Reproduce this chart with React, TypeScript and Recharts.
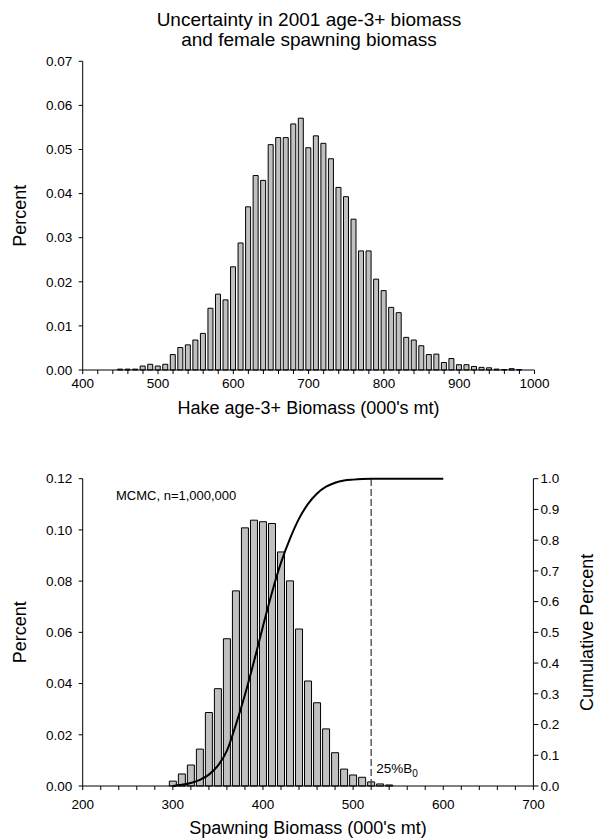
import React from 'react'
import { BarChart, ComposedChart, Bar, Line, XAxis, YAxis, ReferenceLine } from 'recharts'

// age-3+ biomass histogram (bin centre, 000's mt) and share of draws
const TOTAL_BINS = [450, 460, 470, 480, 490, 500, 510, 520, 530, 540, 550, 560, 570, 580, 590,
  600, 610, 620, 630, 640, 650, 660, 670, 680, 690, 700, 710, 720, 730, 740, 750, 760, 770, 780, 790,
  800, 810, 820, 830, 840, 850, 860, 870, 880, 890, 900, 910, 920, 930, 940, 950, 960, 970, 980]
const TOTAL_PCT = [0.0002, 0.0002, 0.0002, 0.0009, 0.0013, 0.0009, 0.0013, 0.0035, 0.0051, 0.0057,
  0.0068, 0.0083, 0.014, 0.0172, 0.0159, 0.0234, 0.0288, 0.037, 0.0441, 0.043, 0.0511, 0.0527, 0.0527,
  0.0558, 0.0571, 0.0504, 0.0531, 0.0514, 0.0479, 0.0414, 0.0393, 0.0342, 0.027, 0.027, 0.0206, 0.018,
  0.0142, 0.013, 0.0074, 0.0068, 0.0055, 0.0035, 0.0036, 0.0017, 0.0026, 0.0012, 0.0012, 0.0008,
  0.0006, 0.0005, 0.0002, 0.0001, 0.0003, 0.0001]

// female spawning biomass histogram
const SPAWN_BINS = [300, 310, 320, 330, 340, 350, 360, 370, 380, 390, 400, 410, 420, 430, 440, 450,
  460, 470, 480, 490, 500, 510, 520, 530, 540]
const SPAWN_PCT = [0.0019, 0.0047, 0.0082, 0.0144, 0.0287, 0.038, 0.0575, 0.0762, 0.1008, 0.1038,
  0.1032, 0.1025, 0.0914, 0.0801, 0.0613, 0.041, 0.0325, 0.0223, 0.013, 0.0066, 0.0043, 0.0034,
  0.0016, 0.0008, 0.0004]

// cumulative curve
const CUM_BINS = [300, 310, 320, 330, 340, 350, 360, 370, 380, 390, 400, 410, 420, 430, 440, 450,
  460, 470, 480, 490, 500, 510, 520, 530, 540, 550, 560, 570, 580, 590, 600]
const CUM_PCT = [0, 0.004, 0.01, 0.02, 0.037, 0.066, 0.115, 0.2, 0.297, 0.405, 0.52, 0.63, 0.727,
  0.805, 0.87, 0.918, 0.952, 0.974, 0.987, 0.994, 0.997, 0.999, 1, 1, 1, 1, 1, 1, 1, 1, 1]

const B0_25 = 520

const TOP_X_LABELS = [400, 500, 600, 700, 800, 900, 1000]
const TOP_Y_TICKS = [0, 0.01, 0.02, 0.03, 0.04, 0.05, 0.06, 0.07]
const BOT_X_LABELS = [200, 300, 400, 500, 600, 700]
const BOT_Y_TICKS = [0, 0.02, 0.04, 0.06, 0.08, 0.1, 0.12]
const CUM_TICKS = [0, 0.1, 0.2, 0.3, 0.4, 0.5, 0.6, 0.7, 0.8, 0.9, 1]

const FONT = '"Liberation Sans", Arial, Helvetica, sans-serif'
const tickStyle = { fontSize: 13.5, fill: '#000', fontFamily: FONT }
const axisTitle = { fontSize: 18, fill: '#000', fontFamily: FONT }

// minor ticks every 20 between the labelled hundreds
const withMinor = (labels: number[]) => {
  const out: number[] = []
  for (let v = labels[0]; v <= labels[labels.length - 1]; v += 20) out.push(v)
  return out
}
const hundreds = (v: number) => (v % 100 === 0 ? String(v) : '')

const B0Label = (props: any) => {
  const { x, y, height } = props.viewBox
  return (
    <text x={x + 5} y={y + height - 13.3} fontSize={13.5} fontFamily={FONT} fill="#000">
      25%B<tspan dy={4} fontSize={10}>0</tspan>
    </text>
  )
}

export default function App() {
  const topData = TOTAL_BINS.map((x, i) => ({ x, pct: TOTAL_PCT[i] }))
  const bottomData = CUM_BINS.map((x, i) => {
    const k = SPAWN_BINS.indexOf(x)
    return { x, pct: k >= 0 ? SPAWN_PCT[k] : null, cum: CUM_PCT[i] }
  })

  return (
    <div style={{ position: 'absolute', left: 0, top: 0, width: 599, height: 838, background: '#fff', fontFamily: FONT }}>
      <div style={{ position: 'absolute', left: 0, top: 0 }}>
        <BarChart width={599} height={420} data={topData} margin={{ top: 61.3, right: 64.5, bottom: 0, left: 0 }}>
          <XAxis type="number" dataKey="x" domain={[400, 1000]} ticks={withMinor(TOP_X_LABELS)} interval={0}
            tickFormatter={hundreds} height={50} tickSize={4} tickMargin={4} stroke="#000" tick={tickStyle}
            label={{ value: "Hake age-3+ Biomass (000's mt)", position: 'insideBottom', offset: 6, ...axisTitle }} />
          <YAxis type="number" domain={[0, 0.07]} ticks={TOP_Y_TICKS} interval={0}
            tickFormatter={(v: number) => v.toFixed(2)} width={82.7} tickSize={4} tickMargin={6.5}
            stroke="#000" tick={tickStyle}
            label={{ value: 'Percent', angle: -90, position: 'insideLeft', offset: 20, ...axisTitle, style: { textAnchor: 'middle' } }} />
          <Bar dataKey="pct" fill="#c0c0c0" stroke="#000" strokeWidth={1} barSize={5} isAnimationActive={false} />
        </BarChart>
      </div>

      <div style={{ position: 'absolute', left: 0, top: 430 }}>
        <ComposedChart width={599} height={408} data={bottomData} margin={{ top: 48.7, right: 0, bottom: 0, left: 0 }}>
          <XAxis type="number" dataKey="x" domain={[200, 700]} ticks={withMinor(BOT_X_LABELS)} interval={0}
            tickFormatter={hundreds} height={52} tickSize={4} tickMargin={9} stroke="#000" tick={tickStyle}
            label={{ value: "Spawning Biomass (000's mt)", position: 'insideBottom', offset: 4.5, ...axisTitle }} />
          <YAxis yAxisId="left" type="number" domain={[0, 0.12]} ticks={BOT_Y_TICKS} interval={0}
            tickFormatter={(v: number) => v.toFixed(2)} width={82.7} tickSize={4} tickMargin={6.5}
            stroke="#000" tick={tickStyle}
            label={{ value: 'Percent', angle: -90, position: 'insideLeft', offset: 20, ...axisTitle, style: { textAnchor: 'middle' } }} />
          <YAxis yAxisId="right" orientation="right" type="number" domain={[0, 1]} ticks={CUM_TICKS} interval={0}
            tickFormatter={(v: number) => v.toFixed(1)} width={65.6} tickSize={5} tickMargin={2}
            stroke="#000" tick={tickStyle}
            label={{ value: 'Cumulative Percent', angle: -90, position: 'insideRight', offset: 12, ...axisTitle, style: { textAnchor: 'middle' } }} />
          <Bar yAxisId="left" dataKey="pct" fill="#c0c0c0" stroke="#000" strokeWidth={1} barSize={7} isAnimationActive={false} />
          <ReferenceLine yAxisId="left" x={B0_25} stroke="#333" strokeWidth={1.2} strokeDasharray="7 3" label={B0Label} />
          <Line yAxisId="right" dataKey="cum" type="monotone" stroke="#000" strokeWidth={2} dot={false} isAnimationActive={false} />
        </ComposedChart>
      </div>

      <svg width={599} height={838} style={{ position: 'absolute', left: 0, top: 0, pointerEvents: 'none' }}>
        <text x={309} y={25.5} textAnchor="middle" fontSize={19} fontFamily={FONT} fill="#000">
          Uncertainty in 2001 age-3+ biomass
        </text>
        <text x={309} y={45.5} textAnchor="middle" fontSize={19} fontFamily={FONT} fill="#000">
          and female spawning biomass
        </text>
        <text x={116} y={500} fontSize={13} fontFamily={FONT} fill="#000">MCMC, n=1,000,000</text>
      </svg>
    </div>
  )
}
